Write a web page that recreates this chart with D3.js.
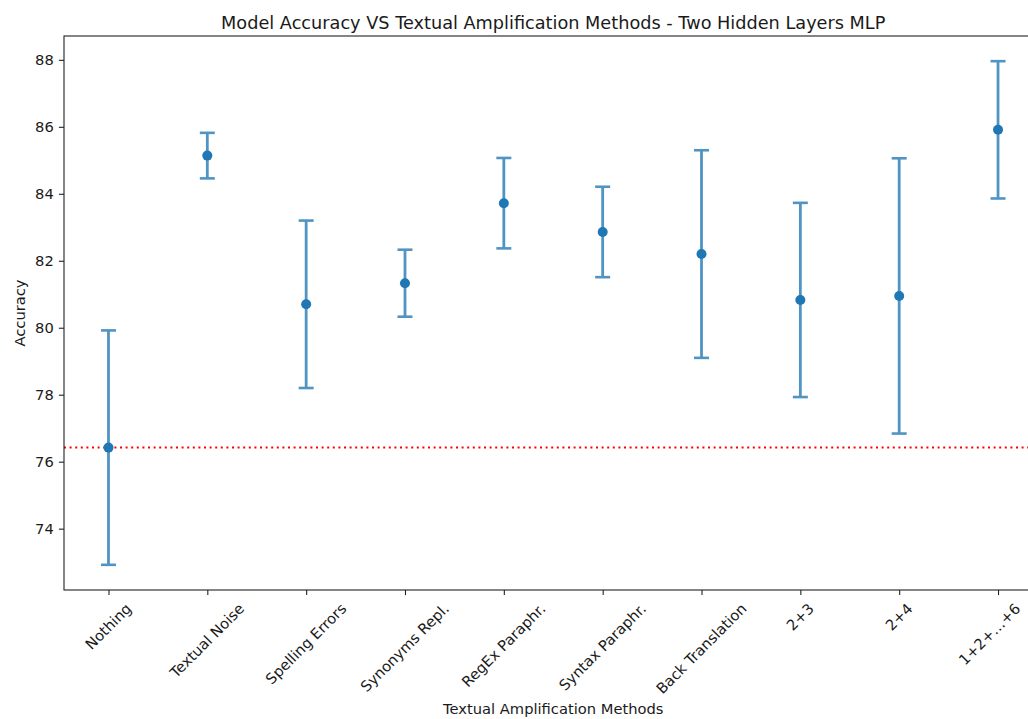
<!DOCTYPE html>
<html>
<head>
<meta charset="utf-8">
<script src="https://cdn.jsdelivr.net/npm/d3@7/dist/d3.min.js"></script>
<style>
  html, body { margin: 0; padding: 0; background: #fff; }
  svg { display: block; }
  text { font-family: "DejaVu Sans", sans-serif; fill: #1a1a1a; }
</style>
</head>
<body>
<svg id="chart" width="1028" height="719"></svg>
<script>
const categories = ["Nothing", "Textual Noise", "Spelling Errors", "Synonyms Repl.", "RegEx Paraphr.",
  "Syntax Paraphr.", "Back Translation", "2+3", "2+4", "1+2+…+6"];
const means = [76.42, 85.14, 80.70, 81.33, 83.72, 82.86, 82.20, 80.83, 80.95, 85.91];
const errors = [3.50, 0.68, 2.50, 1.00, 1.35, 1.35, 3.10, 2.90, 4.11, 2.05];
const baseline = 76.42;
const yTicks = [74, 76, 78, 80, 82, 84, 86, 88];
const title = "Model Accuracy VS Textual Amplification Methods - Two Hidden Layers MLP";
const xTitle = "Textual Amplification Methods";
const yTitle = "Accuracy";

(function () {
const svg = d3.select("#chart");
const W = 1028;
const mL = 64, mT = 36, mB = 590, mR = 1042.5;
const fs = 14.7;
const tk = 5.1;

const lo = d3.min(means.map((m, i) => m - errors[i]));
const hi = d3.max(means.map((m, i) => m + errors[i]));
const pad = (hi - lo) * 0.05;

const x = d3.scaleLinear().domain([-0.45, categories.length - 1 + 0.45]).range([mL, mR]);
const y = d3.scaleLinear().domain([lo - pad, hi + pad]).range([mB, mT]);

// baseline (red dotted)
svg.append("line")
  .attr("x1", mL).attr("x2", mR)
  .attr("y1", y(baseline)).attr("y2", y(baseline))
  .attr("stroke", "red").attr("stroke-width", 2)
  .attr("stroke-dasharray", "2 3.6");

// error bars
const g = svg.append("g");
const ecol = "#1f77b4";
categories.forEach((c, i) => {
  const cx = x(i);
  const y1 = y(means[i] + errors[i]), y2 = y(means[i] - errors[i]);
  const eg = g.append("g").attr("opacity", 0.78);
  eg.append("line").attr("x1", cx).attr("x2", cx).attr("y1", y1).attr("y2", y2)
    .attr("stroke", ecol).attr("stroke-width", 2.8);
  [y1, y2].forEach(yy => {
    eg.append("line").attr("x1", cx - 7.5).attr("x2", cx + 7.5).attr("y1", yy).attr("y2", yy)
      .attr("stroke", ecol).attr("stroke-width", 2.6);
  });
});
g.selectAll("circle").data(means).join("circle")
  .attr("cx", (d, i) => x(i)).attr("cy", d => y(d)).attr("r", 5)
  .attr("fill", "#1f77b4");

// axes frame
svg.append("rect").attr("x", mL).attr("y", mT).attr("width", mR - mL).attr("height", mB - mT)
  .attr("fill", "none").attr("stroke", "#222").attr("stroke-width", 1.1);

// y axis
const yAxis = d3.axisLeft(y).tickValues(yTicks).tickSize(tk).tickPadding(tk).tickFormat(d3.format("d"));
const ya = svg.append("g").attr("transform", `translate(${mL},0)`).call(yAxis);
ya.select(".domain").remove();
ya.selectAll(".tick line").attr("stroke", "#222").attr("stroke-width", 1.1);
ya.selectAll(".tick text").attr("font-size", fs).attr("font-family", "DejaVu Sans").attr("fill", "#1a1a1a");

// x axis
const xAxis = d3.axisBottom(x).tickValues(d3.range(categories.length)).tickSize(tk).tickFormat(() => "");
const xa = svg.append("g").attr("transform", `translate(0,${mB})`).call(xAxis);
xa.select(".domain").remove();
xa.selectAll(".tick line").attr("stroke", "#222").attr("stroke-width", 1.1);
xa.selectAll(".tick text").remove();

// rotated x tick labels (bbox centred on tick, top at label pad)
const labTop = mB + tk + tk;
const c45 = Math.SQRT1_2;
const h = fs * 1.164;
categories.forEach((c, i) => {
  const t = svg.append("text").attr("font-size", fs).attr("text-anchor", "middle").attr("dy", "0.33em").text(c);
  const w = t.node().getComputedTextLength();
  const bb = (w + h) * c45;
  const cx = Math.min(x(i), W - 4 - bb / 2);
  t.attr("transform", `translate(${cx},${labTop + bb / 2}) rotate(-45)`);
});

// titles
svg.append("text").attr("x", (mL + mR) / 2).attr("y", 29).attr("text-anchor", "middle")
  .attr("font-size", 17.7).text(title);
svg.append("text").attr("x", (mL + mR) / 2).attr("y", 714).attr("text-anchor", "middle")
  .attr("font-size", fs).text(xTitle);
svg.append("text").attr("transform", `translate(25,${(mT + mB) / 2}) rotate(-90)`)
  .attr("text-anchor", "middle").attr("font-size", fs).text(yTitle);
})();
</script>
</body>
</html>
